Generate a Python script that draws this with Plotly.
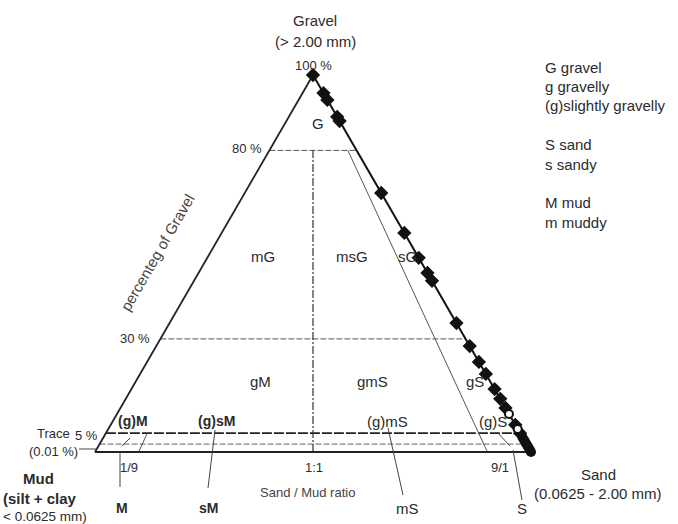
import plotly.graph_objects as go

# ---------------- data ----------------
# samples on the gravel-sand edge (no mud): gravel %, sand share of non-gravel part (%)
diamond_gravel = [100, 95.2, 93.4, 88.9, 87.8, 68.7, 58.1, 51.5, 47.5, 45.4, 34.2,
                  28.1, 23.9, 20.7, 16.7, 14.1, 11.7, 7.2, 5.0]
diamond_sand = [100] * len(diamond_gravel)
open_gravel = [10.1, 6.1]
open_sand = [100, 100]
filled_gravel = [4.0, 3.4, 2.9, 2.4, 2.0, 1.5, 1.0, 0.5, 0.0]
filled_sand = [100] * len(filled_gravel)

gravel_levels = [80, 30, 5]          # class boundaries (% gravel)
trace_display = 2.1                  # trace (0.01 %) line, drawn exaggerated
ratio_lines = {"1/9": 10, "1:1": 50, "9/1": 90}   # sand share (%)

legend_lines = ["G gravel", "g gravelly", "(g)slightly gravelly", "",
                "S sand", "s sandy", "", "M mud", "m muddy"]

# ---------------- geometry helpers ----------------
W, H = 678, 524
PX0, PX1, PYB, PYT = 95, 531, 452, 75   # base-left x, base-right x, base y, apex y


def px(xp, yp):
    """pixel -> data coords"""
    return (xp - PX0) / (PX1 - PX0), (PYB - yp) / (PYB - PYT) * 100


def tern(g, s):
    """gravel %, sand share % -> data coords"""
    g1 = g / 100.0
    return (1 - g1) * s / 100.0 + g1 * 0.5, g


xr = [px(0, 0)[0], px(W, 0)[0]]
yr = [px(0, H)[1], px(0, 0)[1]]

FONT = "Liberation Sans, Arial, sans-serif"
TXT = "#2b2b2b"
LINE = "#333333"

fig = go.Figure()


def seg(p, q, color=LINE, width=1, dash="solid"):
    fig.add_trace(go.Scatter(x=[p[0], q[0]], y=[p[1], q[1]], mode="lines",
                             line=dict(color=color, width=width, dash=dash),
                             hoverinfo="skip", showlegend=False))


def edge_at(g, side):
    return tern(g, 0 if side == "L" else 100)


# horizontal class boundaries
seg(edge_at(gravel_levels[0], "L"), edge_at(gravel_levels[0], "R"), "#555", 1, "6px,2px")
seg(edge_at(gravel_levels[1], "L"), edge_at(gravel_levels[1], "R"), "#555", 1, "6px,2px")
seg(edge_at(gravel_levels[2], "L"), edge_at(gravel_levels[2], "R"), "#222", 1.6, "10px,2px")
seg(edge_at(trace_display, "L"), edge_at(trace_display, "R"), "#666", 1, "6px,2px")

# sand/mud ratio lines
seg(tern(0, ratio_lines["1:1"]), tern(80, ratio_lines["1:1"]), "#333", 1.2, "8px,2px,2px,2px")
seg(tern(0, ratio_lines["9/1"]), tern(80, ratio_lines["9/1"]), "#555", 1)
seg(tern(0, ratio_lines["1/9"]), tern(5, ratio_lines["1/9"]), "#555", 1)

# triangle
seg(tern(0, 0), tern(100, 0), "#222", 1.8)
seg(tern(100, 0), tern(0, 100), "#111", 2)
seg(tern(0, 0), tern(0, 100), "#222", 1.8)

# leader lines (pixel positions)
leaders = [((79, 449), (97, 449)), ((130, 438), (122, 446)), ((120, 452), (120, 487)),
           ((215, 430), (208, 488)), ((388, 428), (403, 495)), ((497, 432), (510, 446)),
           ((513, 450), (522, 500))]
for a, b in leaders:
    seg(px(*a), px(*b), "#444", 1)


# data points
def pts(gs, ss):
    xy = [tern(g, s) for g, s in zip(gs, ss)]
    return [p[0] for p in xy], [p[1] for p in xy]


x, y = pts(filled_gravel, filled_sand)
fig.add_trace(go.Scatter(x=x, y=y, mode="markers", showlegend=False,
                         marker=dict(symbol="circle", size=10, color="#111")))
x, y = pts(diamond_gravel, diamond_sand)
fig.add_trace(go.Scatter(x=x, y=y, mode="markers", showlegend=False,
                         marker=dict(symbol="diamond", size=11, color="#111")))
x, y = pts(open_gravel, open_sand)
fig.add_trace(go.Scatter(x=x, y=y, mode="markers", showlegend=False,
                         marker=dict(symbol="circle", size=8, color="white",
                                     line=dict(color="#111", width=2))))


# texts
def txt(xp, yp, s, size=13, anchor="center", color=TXT, bold=False, angle=0):
    X, Y = px(xp, yp)
    fig.add_annotation(x=X, y=Y, text=("<b>%s</b>" % s) if bold else s, showarrow=False,
                       xanchor=anchor, yanchor="middle", textangle=angle,
                       font=dict(family=FONT, size=size, color=color))


txt(315, 20, "Gravel", 15)
txt(315, 41, "(> 2.00 mm)", 15)
txt(313, 65, "100 %", 13)
txt(264, 148, "80 %", 13, "right")
txt(152, 338, "30 %", 13, "right")
txt(72, 433, "Trace", 13, "right")
txt(100, 435, "5 %", 13, "right")
txt(80, 451, "(0.01 %)", 13, "right")
txt(157, 252, "percenteg of Gravel", 15, angle=-60, color="#444")

txt(318, 123, "G", 15)
txt(263, 256, "mG", 15)
txt(352, 256, "msG", 15)
txt(407, 256, "sG", 15)
txt(260, 381, "gM", 15)
txt(372, 381, "gmS", 15)
txt(475, 381, "gS", 15)
txt(133, 421, "(g)M", 14, bold=True)
txt(216, 421, "(g)sM", 14, bold=True)
txt(387, 421, "(g)mS", 15)
txt(493, 421, "(g)S", 15)

txt(129, 467, "1/9", 13)
txt(314, 467, "1:1", 13)
txt(500, 467, "9/1", 13)
txt(307, 492, "Sand / Mud ratio", 13, color="#444")

txt(122, 508, "M", 14, bold=True)
txt(208, 508, "sM", 14, bold=True)
txt(407, 508, "mS", 15)
txt(522, 508, "S", 15)

txt(38, 478, "Mud", 15, bold=True)
txt(40, 498, "(silt + clay", 15, bold=True)
txt(1, 516, "< 0.0625 mm)", 13.5, "left")
txt(598, 474, "Sand", 15)
txt(598, 493, "(0.0625 - 2.00 mm)", 15)

for i, s in enumerate(legend_lines):
    if s:
        txt(543, 67 + i * 19.4, s, 15, "left")

fig.update_layout(width=W, height=H, margin=dict(l=0, r=0, t=0, b=0),
                  plot_bgcolor="white", paper_bgcolor="white", showlegend=False)
fig.update_xaxes(range=xr, visible=False, fixedrange=True)
fig.update_yaxes(range=yr, visible=False, fixedrange=True)

fig.write_html("out.html", config={"displayModeBar": False},
               post_script="document.body.style.margin='0';document.body.style.padding='0';")
